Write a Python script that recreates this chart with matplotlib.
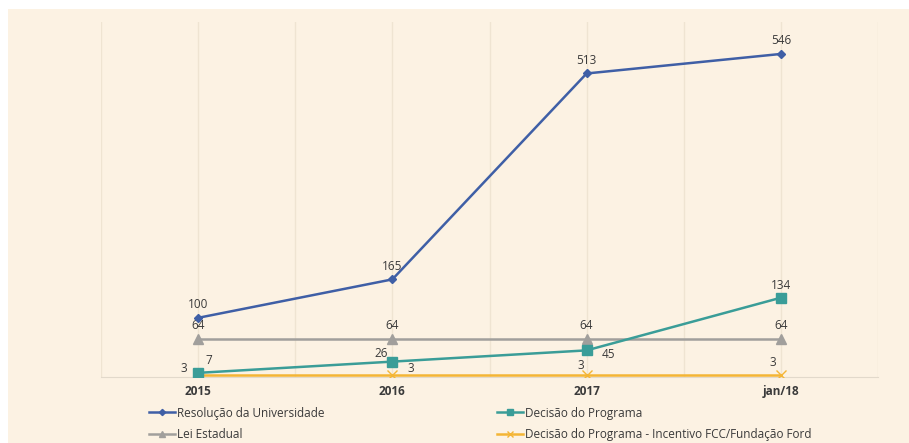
#importing libraries
import numpy as np
import matplotlib.pyplot as plt
from matplotlib.patches import Rectangle

#data
periods = ["2015", "2016", "2017", "jan/18"]
resolucao = [100, 165, 513, 546]
decisao = [7, 26, 45, 134]
lei = [64, 64, 64, 64]
incentivo = [3, 3, 3, 3]

plt.rcParams['font.family'] = ['Open Sans', 'DejaVu Sans']

cream = "#FCF2E3"
blue = "#3F5FA6"
teal = "#3A9D98"
gray = "#A19F9C"
gold = "#F4B535"
txt = "#3A3A3A"

fig = plt.figure(figsize=(9.09, 4.43), dpi=100)
fig.patches.append(Rectangle((8/909, 0), 1, 1 - 9/443, transform=fig.transFigure,
                             facecolor=cream, edgecolor="none", zorder=-10))
ax = fig.add_axes([101/909, 1 - 377/443, (878 - 101)/909, (377 - 22)/443])
ax.set_facecolor(cream)

x = np.arange(len(periods))
l1, = ax.plot(x, resolucao, color=blue, lw=1.8, marker="D", ms=4.5, label="Resolução da Universidade", zorder=5)
l2, = ax.plot(x, decisao, color=teal, lw=1.8, marker="s", ms=6.5, label="Decisão do Programa", zorder=4)
l3, = ax.plot(x, lei, color=gray, lw=1.8, marker="^", ms=7, label="Lei Estadual", zorder=3)
l4, = ax.plot(x, incentivo, color=gold, lw=1.8, marker="x", ms=7, label="Decisão do Programa - Incentivo FCC/Fundação Ford", zorder=3)

#data labels
def lab(xi, yi, s, dx, dy):
    ax.annotate(s, (xi, yi), xytext=(dx, dy), textcoords="offset points",
                ha="center", va="center", fontsize=8.5, color=txt)

for i, v in enumerate(resolucao):
    lab(i, v, str(v), 0, 9.5)
for i, v in enumerate(lei):
    lab(i, v, str(v), 0, 9.5)
lab(0, decisao[0], str(decisao[0]), 8, 9)
lab(1, decisao[1], str(decisao[1]), -8, 6)
lab(2, decisao[2], str(decisao[2]), 16, -3)
lab(3, decisao[3], str(decisao[3]), 0, 9)
lab(0, incentivo[0], str(incentivo[0]), -10, 5)
lab(1, incentivo[1], str(incentivo[1]), 13, 5)
lab(2, incentivo[2], str(incentivo[2]), -4, 7)
lab(3, incentivo[3], str(incentivo[3]), -6, 9)

ax.set_xlim(-0.5, len(periods) - 0.5)
ax.set_ylim(0, 600)
ax.set_xticks(x)
ax.set_xticklabels(periods, fontsize=8.5, color=txt, fontweight="bold")
ax.set_xticks(np.arange(-0.5, len(periods), 1), minor=True)
ax.set_yticks([])
ax.tick_params(axis="x", which="both", length=0, pad=6)
ax.grid(axis="x", which="both", color="#EFE4D2", lw=1)
for s in ["top", "left", "right"]:
    ax.spines[s].set_visible(False)
ax.spines["bottom"].set_color("#E2D9CB")

#legend is row-major in the original
handles = [l1, l3, l2, l4]
fig.legend(handles, [h.get_label() for h in handles], ncol=2, loc="upper left",
           bbox_to_anchor=(138/909, 1 - 396/443), frameon=False, fontsize=8.5,
           labelcolor=txt, handlelength=2.2, handletextpad=0.2,
           columnspacing=14.6, markerscale=0.7, labelspacing=0.75)

plt.savefig("out.png", dpi=100, facecolor="white")
